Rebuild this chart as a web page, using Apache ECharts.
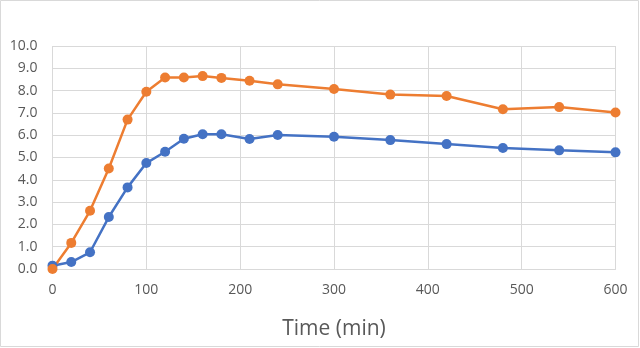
<!DOCTYPE html>
<html><head><meta charset="utf-8">
<script src="https://cdn.jsdelivr.net/npm/echarts@6/dist/echarts.min.js"></script>
<style>html,body{margin:0;padding:0;background:#fff}#c{width:640px;height:348px}</style>
</head><body><div id="c"></div>
<script>
const times = [0,20,40,60,80,100,120,140,160,180,210,240,300,360,420,480,540,600];
const seriesBlue = [0.15,0.31,0.75,2.33,3.66,4.75,5.26,5.84,6.04,6.04,5.83,6.01,5.93,5.78,5.60,5.43,5.32,5.23];
const seriesOrange = [0.0,1.17,2.61,4.51,6.70,7.95,8.59,8.59,8.65,8.57,8.44,8.28,8.07,7.82,7.76,7.16,7.26,7.02];
const xAxisTitle = 'Time (min)';

const chart = echarts.init(document.getElementById('c'), null, {renderer:'canvas'});
const font = 'Open Sans, Liberation Sans, sans-serif';
function mk(vals, color){
  return {
    type:'line', data: times.map((t,i)=>[t, vals[i]]),
    symbol:'circle', symbolSize:10, showSymbol:true,
    lineStyle:{color:color, width:2.5},
    itemStyle:{color:color, borderColor:color, borderWidth:0},
    emphasis:{disabled:true}, animation:false
  };
}
chart.setOption({
  animation:false,
  backgroundColor:'#fff',
  graphic:[{type:'rect', shape:{x:0.5,y:0.5,width:638,height:346}, style:{fill:'none', stroke:'#D9D9D9', lineWidth:1}, silent:true}],
  grid:{left:52.5, right:24.5, top:46, bottom:79, containLabel:false},
  xAxis:{
    type:'value', min:0, max:600, interval:100,
    name:xAxisTitle, nameLocation:'middle', nameGap:50,
    nameTextStyle:{fontFamily:font, fontSize:21, color:'#595959'},
    axisLine:{show:true, lineStyle:{color:'#D9D9D9', width:1}},
    axisTick:{show:false},
    axisLabel:{fontFamily:font, fontSize:14, color:'#595959', margin:14},
    splitLine:{show:true, lineStyle:{color:'#D9D9D9', width:1}}
  },
  yAxis:{
    type:'value', min:0, max:10, interval:1,
    axisLine:{show:false}, axisTick:{show:false},
    axisLabel:{fontFamily:font, fontSize:14, color:'#595959', margin:15, formatter:v=>v.toFixed(1)},
    splitLine:{show:true, lineStyle:{color:'#D9D9D9', width:1}}
  },
  series:[mk(seriesBlue,'#4472C4'), mk(seriesOrange,'#ED7D31')]
});
</script></body></html>
